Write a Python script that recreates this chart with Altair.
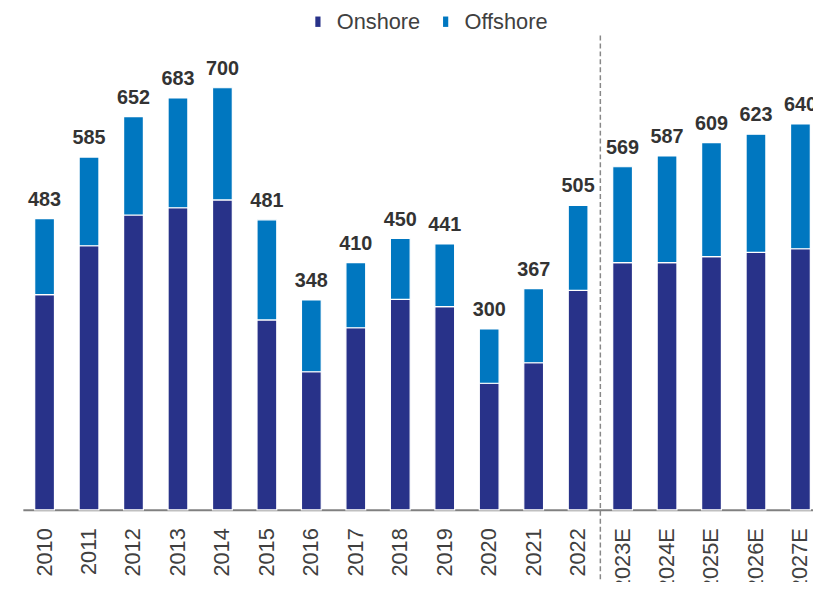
import altair as alt
import pandas as pd

years = ["2010", "2011", "2012", "2013", "2014", "2015", "2016", "2017", "2018",
         "2019", "2020", "2021", "2022", "2023E", "2024E", "2025E", "2026E", "2027E"]
totals = [483, 585, 652, 683, 700, 481, 348, 410, 450, 441, 300, 367, 505,
          569, 587, 609, 623, 640]
onshore = [357, 438, 489, 501, 514, 315, 229, 302, 349, 337, 210, 244, 364,
           410, 410, 420, 427, 433]
series = ["Onshore", "Offshore"]
colors = ["#283289", "#0077C0"]
divider_after = ["2022"]

rows = []
for y, t, on in zip(years, totals, onshore):
    rows.append({"year": y, "series": "Onshore", "value": on, "ord": 0})
    rows.append({"year": y, "series": "Offshore", "value": t - on, "ord": 1})
df = pd.DataFrame(rows)
tot_df = pd.DataFrame({"year": years, "total": totals})

FONT = "Liberation Sans"

x_enc = alt.X(
    "year:N", sort=years,
    scale=alt.Scale(paddingInner=0.555, paddingOuter=0.163, align=0.816),
    axis=alt.Axis(title=None, labelAngle=-90, labelFontSize=22, labelFont=FONT,
                  labelColor="#404040", ticks=False, labelPadding=18,
                  domainColor="#808080", domainWidth=2),
)
y_scale = alt.Scale(domain=[0, 827.6], nice=False)

bars = alt.Chart(df).mark_bar(stroke="white", strokeWidth=1.2).encode(
    x=x_enc,
    y=alt.Y("value:Q", stack="zero", scale=y_scale, axis=None),
    color=alt.Color(
        "series:N",
        scale=alt.Scale(domain=series, range=colors),
        sort=series,
        legend=alt.Legend(
            title=None, orient="none", legendX=287, legendY=0,
            direction="horizontal", labelFontSize=22, labelFont=FONT,
            labelColor="#404040", symbolType="M-0.5,-1H0.5V1H-0.5Z",
            symbolSize=110, symbolStrokeWidth=0, columnPadding=14, labelOffset=8,
            padding=0,
        ),
    ),
    order=alt.Order("ord:Q"),
)

labels = alt.Chart(tot_df).mark_text(
    dy=-13, baseline="alphabetic", fontSize=20, fontWeight="bold",
    font=FONT, color="#333333",
).encode(
    x=alt.X("year:N", sort=years),
    y=alt.Y("total:Q", scale=y_scale),
    text="total:Q",
)

rule = alt.Chart(pd.DataFrame({"year": divider_after})).mark_rule(
    strokeDash=[5, 3], color="#888888", strokeWidth=1.5, xOffset=12.45,
).encode(
    x=alt.X("year:N", sort=years, bandPosition=1),
    y=alt.value(25),
    y2=alt.value(600),
)

chart = alt.layer(bars, labels, rule).properties(
    width=798, height=504,
    autosize=alt.AutoSizeParams(type="none"),
    padding={"left": 15, "top": 0, "right": 0, "bottom": 70},
).configure(font=FONT).configure_view(stroke=None)

chart.save("out.html", embed_options={"renderer": "svg", "actions": False})
